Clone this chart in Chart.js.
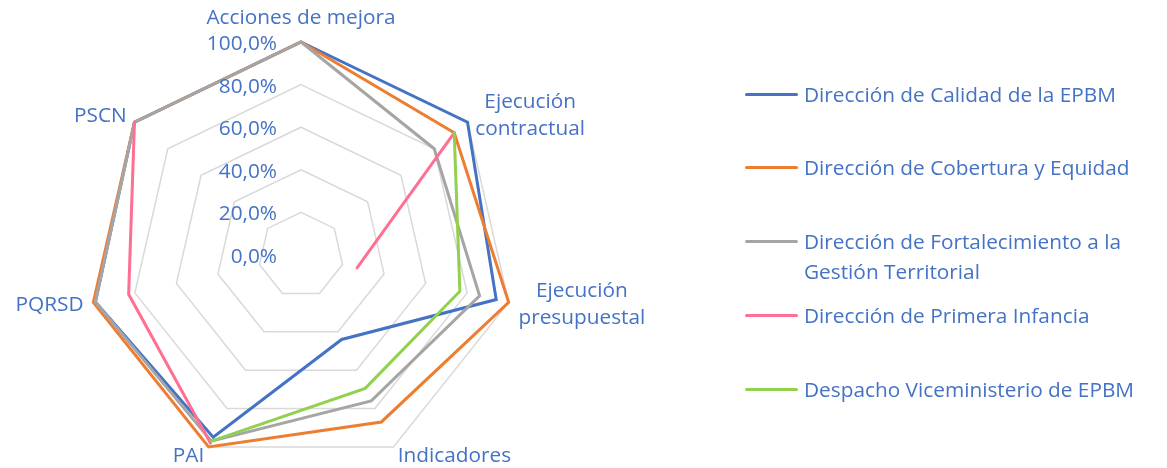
<!DOCTYPE html>
<html>
<head>
<meta charset="utf-8">
<script src="https://cdn.jsdelivr.net/npm/chart.js@4/dist/chart.umd.min.js"></script>
<style>
  html, body { margin: 0; padding: 0; background: #fff; }
  #wrap { position: relative; width: 1167px; height: 468px; }
  #legend { position: absolute; left: 745px; top: 0; font-family: "Open Sans", sans-serif; font-size: 20.8px; color: #4472C4; }
  .item { position: absolute; left: 0; width: 420px; display: flex; align-items: flex-start; }
  .swatch { width: 53px; height: 3px; border-radius: 2px; margin-top: 14px; flex: none; }
  .txt { margin-left: 6px; line-height: 30px; white-space: nowrap; }
</style>
</head>
<body>
<div id="wrap">
  <canvas id="radarChart" width="1167" height="468"></canvas>
  <div id="legend"></div>
</div>
<script>
// Radar chart - avance por dependencia

const categories = ['Acciones de mejora', ['Ejecución', 'contractual'], ['Ejecución', 'presupuestal'], 'Indicadores', 'PAI', 'PQRSD', 'PSCN'];
const tickValues = [0, 0.2, 0.4, 0.6, 0.8, 1];

const seriesNames = [
    'Dirección de Calidad de la EPBM',
    'Dirección de Cobertura y Equidad',
    ['Dirección de Fortalecimiento a la', 'Gestión Territorial'],
    'Dirección de Primera Infancia',
    'Despacho Viceministerio de EPBM'
];
const seriesColors = ['#4472C4', '#ED7D31', '#A5A5A5', '#FF6F91', '#92D050'];

const calidad = [1, 1, 0.94, 0.44, 0.95, 0.99, 1];
const cobertura = [1, 0.92, 1, 0.87, 1, 1, 1];
const fortalecimiento = [1, 0.80, 0.86, 0.76, 0.97, 0.99, 1];
const primeraInfancia = [null, 0.92, 0.27, null, 0.98, 0.83, 1];
const despacho = [null, 0.92, 0.765, 0.695, 0.97, null, null];

const seriesValues = [calidad, cobertura, fortalecimiento, primeraInfancia, despacho];

const labelFont = '20.8px "Open Sans", sans-serif';
const labelColor = '#4472C4';

function fmtPct(v) {
    return (v * 100).toFixed(1).replace('.', ',') + '%';
}

// tick and point labels drawn Excel-style from the scale geometry
const radarLabels = {
    id: 'radarLabels',
    afterDraw(chart) {
        const scale = chart.scales.r;
        const ctx = chart.ctx;
        ctx.save();
        ctx.font = labelFont;
        ctx.fillStyle = labelColor;

        // tick labels, left of the vertical axis
        ctx.textAlign = 'right';
        ctx.textBaseline = 'middle';
        tickValues.forEach(v => {
            const d = scale.getDistanceFromCenterForValue(v);
            ctx.fillText(fmtPct(v), scale.xCenter - 24, scale.yCenter - d + 2);
        });

        // point labels
        const lineH = 27;
        categories.forEach((lab, i) => {
            const lines = Array.isArray(lab) ? lab : [lab];
            const pos = scale.getPointPosition(i, scale.drawingArea + 10);
            let deg = Math.round((pos.angle + Math.PI / 2) * 180 / Math.PI);
            deg = ((deg % 360) + 360) % 360;
            const w = Math.max(...lines.map(t => ctx.measureText(t).width));
            const h = lines.length * lineH;
            let left;
            if (deg === 0 || deg === 180) left = pos.x - w / 2;
            else if (deg < 180) left = pos.x;
            else left = pos.x - w;
            let top;
            if (deg === 0) top = pos.y - h;
            else if (deg === 180) top = pos.y;
            else top = pos.y - h / 2;
            ctx.textAlign = 'center';
            lines.forEach((t, k) => {
                ctx.fillText(t, left + w / 2, top + lineH * k + lineH / 2);
            });
        });
        ctx.restore();
    }
};

const radarCtx = document.getElementById('radarChart').getContext('2d');
const radarChart = new Chart(radarCtx, {
    type: 'radar',
    data: {
        labels: categories,
        datasets: seriesValues.map((vals, i) => ({
            label: Array.isArray(seriesNames[i]) ? seriesNames[i].join(' ') : seriesNames[i],
            data: vals,
            borderColor: seriesColors[i],
            backgroundColor: 'transparent',
            borderWidth: 3,
            pointRadius: 0,
            pointHoverRadius: 0,
            fill: false,
            spanGaps: false,
            tension: 0,
            order: seriesValues.length - 1 - i   // later series on top, like Excel
        }))
    },
    options: {
        responsive: false,
        animation: false,
        layout: {
            padding: { left: 88, top: 42, right: 653, bottom: 0 }
        },
        plugins: {
            legend: { display: false },
            tooltip: { enabled: false }
        },
        elements: {
            line: { borderJoinStyle: 'miter', borderCapStyle: 'round' }
        },
        scales: {
            r: {
                min: 0,
                max: 1,
                ticks: { display: false, stepSize: 0.2 },
                grid: { color: '#D9D9D9', lineWidth: 1.5 },
                angleLines: { display: false },
                pointLabels: { display: false }
            }
        }
    },
    plugins: [radarLabels]
});

// legend on the right
const legendEl = document.getElementById('legend');
const legendTops = [79, 152, 226, 300, 374];
seriesNames.forEach((name, i) => {
    const item = document.createElement('div');
    item.className = 'item';
    item.style.top = legendTops[i] + 'px';
    const sw = document.createElement('div');
    sw.className = 'swatch';
    sw.style.background = seriesColors[i];
    const tx = document.createElement('div');
    tx.className = 'txt';
    tx.innerHTML = (Array.isArray(name) ? name : [name]).join('<br>');
    item.appendChild(sw);
    item.appendChild(tx);
    legendEl.appendChild(item);
});
</script>
</body>
</html>
